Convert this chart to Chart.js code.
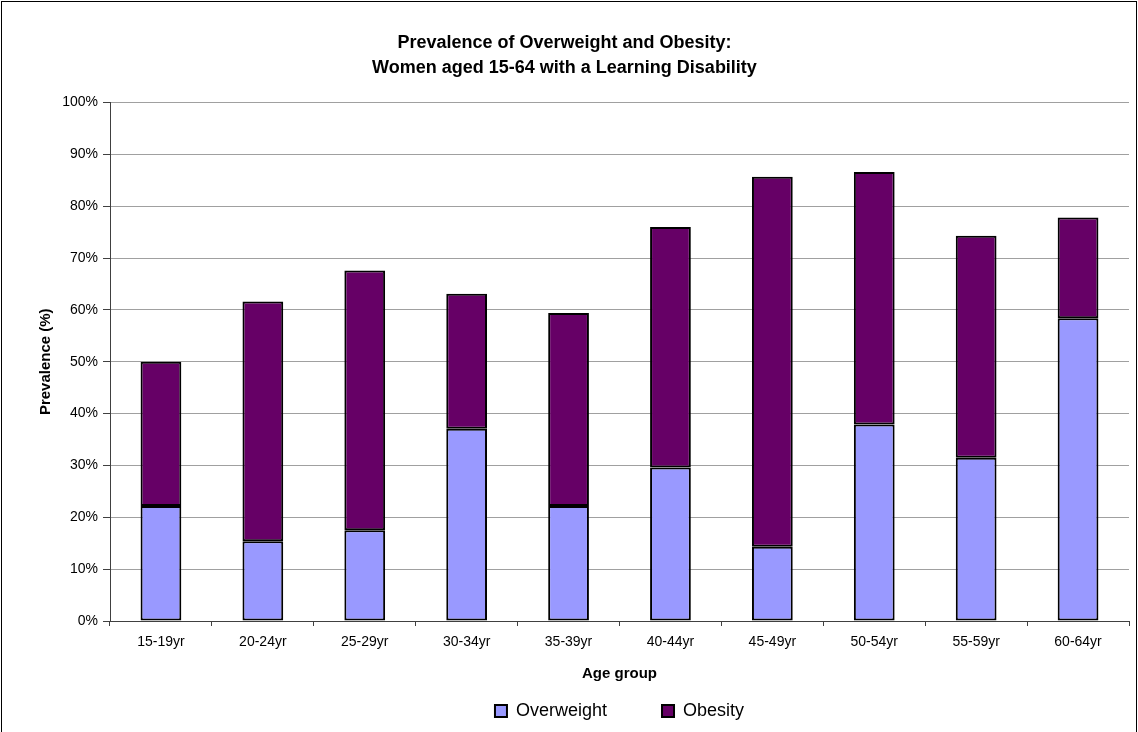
<!DOCTYPE html>
<html>
<head>
<meta charset="utf-8">
<title>Prevalence of Overweight and Obesity</title>
<script src="https://cdn.jsdelivr.net/npm/chart.js@4/dist/chart.umd.min.js"></script>
<style>
  html, body { margin: 0; padding: 0; background: #ffffff; }
  #wrap { width: 1138px; height: 732px; position: relative; }
  canvas { display: block; }
</style>
</head>
<body>
<div id="wrap"><canvas id="chart" width="1138" height="732"></canvas></div>
<script>
// Age bands on the category axis
const ageGroups = ['15-19yr', '20-24yr', '25-29yr', '30-34yr', '35-39yr',
                   '40-44yr', '45-49yr', '50-54yr', '55-59yr', '60-64yr'];

// Prevalence (%) per age band; obesity is stacked on top of overweight
const overweight = [22.2, 15.4, 17.5, 37.1, 22.2, 29.6, 14.3, 37.9, 31.5, 58.4];
const obesity    = [27.8, 46.2, 50.1, 26.0, 37.2, 46.4, 71.4, 48.7, 42.8, 19.4];

// Value axis tick values
const percentTicks = [0, 10, 20, 30, 40, 50, 60, 70, 80, 90, 100];

const titleLines = ['Prevalence of Overweight and Obesity:',
                    'Women aged 15-64 with a Learning Disability'];

const FONT = "'Liberation Sans', Arial, Helvetica, sans-serif";

// Thin frame round the whole chart
const frame = {
  id: 'frame',
  afterDraw(chart) {
    const ctx = chart.ctx;
    ctx.save();
    ctx.strokeStyle = '#000000';
    ctx.lineWidth = 1;
    ctx.strokeRect(1.5, 1.5, chart.width - 3, chart.height + 4);
    ctx.restore();
  }
};

new Chart(document.getElementById('chart'), {
  type: 'bar',
  data: {
    labels: ageGroups,
    datasets: [
      {
        label: 'Overweight',
        data: overweight,
        backgroundColor: '#9999ff',
        borderColor: '#000000',
        borderWidth: 2,
        borderSkipped: false
      },
      {
        label: 'Obesity',
        data: obesity,
        backgroundColor: '#660066',
        borderColor: '#000000',
        borderWidth: 2,
        borderSkipped: false
      }
    ]
  },
  options: {
    responsive: false,
    devicePixelRatio: 1,
    animation: false,
    layout: { padding: { left: 0, right: 9, top: 0, bottom: 2 } },
    datasets: {
      bar: { categoryPercentage: 1.0, barPercentage: 0.4 }
    },
    scales: {
      x: {
        stacked: true,
        offset: true,
        grid: {
          offset: true,
          drawOnChartArea: false,
          drawTicks: true,
          tickLength: 5,
          tickColor: '#404040'
        },
        border: { display: true, color: '#404040', width: 1 },
        ticks: {
          color: '#000000',
          font: { family: FONT, size: 14 },
          padding: 8,
          maxRotation: 0,
          autoSkip: false
        },
        title: {
          display: true,
          text: 'Age group',
          color: '#000000',
          font: { family: FONT, size: 15, weight: 'bold' },
          padding: { top: 6.2, bottom: 9 }
        }
      },
      y: {
        stacked: true,
        min: 0,
        max: 100,
        afterFit(scale) { scale.width = 110; },
        afterBuildTicks(scale) {
          scale.ticks = percentTicks.map(v => ({ value: v }));
        },
        grid: {
          color: '#a0a0a0',
          lineWidth: 1,
          drawTicks: true,
          tickLength: 7,
          tickColor: '#404040'
        },
        border: { display: true, color: '#404040', width: 1 },
        ticks: {
          color: '#000000',
          font: { family: FONT, size: 14 },
          padding: 5,
          callback: v => v + '%'
        },
        title: {
          display: true,
          text: 'Prevalence (%)',
          color: '#000000',
          font: { family: FONT, size: 15, weight: 'bold' },
          padding: { top: 37, bottom: 0 }
        }
      }
    },
    plugins: {
      title: {
        display: true,
        text: titleLines,
        color: '#000000',
        font: { family: FONT, size: 18, weight: 'bold', lineHeight: 25 / 18 },
        padding: { top: 30.5, bottom: 22 }
      },
      legend: {
        display: true,
        position: 'bottom',
        fullSize: false,
        labels: {
          color: '#000000',
          font: { family: FONT, size: 18 },
          boxWidth: 12,
          boxHeight: 12,
          padding: 10,
          generateLabels(chart) {
            const items = Chart.defaults.plugins.legend.labels.generateLabels(chart);
            // wider gap after the first entry
            items[0].text = items[0].text + '         ';
            return items;
          }
        }
      },
      tooltip: { enabled: false }
    }
  },
  plugins: [frame]
});
</script>
</body>
</html>
